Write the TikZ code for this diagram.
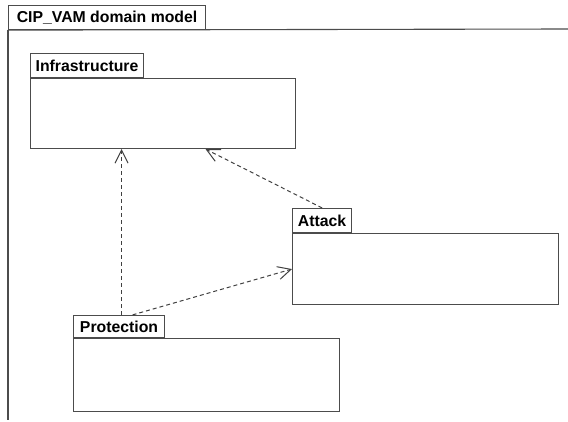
\documentclass[tikz,border=0pt]{standalone}
\usepackage{fontspec}
\setmainfont{Liberation Sans}
\usetikzlibrary{arrows.meta,positioning}

\tikzset{
  pkgbody/.style={rectangle,draw=black!70,line width=1.1pt,fill=white,anchor=north west,inner sep=0pt},
  pkgtab/.style={rectangle,draw=black!70,line width=1.1pt,fill=white,inner sep=0pt,minimum height=24pt,font=\fontsize{15.8}{18}\selectfont\bfseries},
  depend/.style={draw=black!75,line width=1pt,dash pattern=on 4pt off 3pt,-{Straight Barb[length=13pt,width=13pt,line width=1pt]}}
}

\begin{document}
\begin{tikzpicture}[x=1pt,y=-1pt]
\useasboundingbox (0,0) rectangle (568,422);

% Frame
\node[pkgtab,anchor=north west,minimum width=197pt] (frameTab) at (8,5) {CIP\_VAM domain model};
\coordinate (frameEnd) at (568,29);
\coordinate (frameBottom) at (8,420);
\draw[black!70,line width=1.1pt] (frameTab.south west) -- (frameEnd);
\draw[black!70,line width=1.1pt] (frameTab.south west) -- (frameBottom);

% Packages
\node[pkgbody,minimum width=265pt,minimum height=70pt] (infra) at (30,78) {};
\node[pkgtab,minimum width=113pt,above right=0pt and 0pt of infra.north west] (infraTab) {Infrastructure};

\node[pkgbody,minimum width=266pt,minimum height=71pt] (attack) at (292,233) {};
\node[pkgtab,minimum width=59pt,above right=0pt and 0pt of attack.north west] (attackTab) {Attack};

\node[pkgbody,minimum width=266pt,minimum height=73pt] (prot) at (73,338) {};
\node[pkgtab,minimum width=91pt,minimum height=22pt,above right=0pt and 0pt of prot.north west] (protTab) {Protection};

% Dependencies
\draw[depend] ([xshift=2.5pt]protTab.north) -- ([xshift=2.5pt]protTab.north |- infra.south);
\draw[depend] ([xshift=13.5pt]protTab.north) -- (attack.west);
\draw[depend] (attackTab.north) -- ([xshift=42.5pt]infra.south);
\end{tikzpicture}
\end{document}
